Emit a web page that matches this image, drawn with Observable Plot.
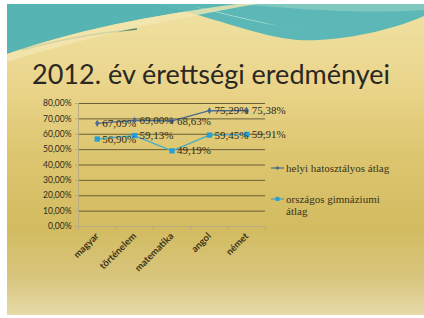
<!DOCTYPE html>
<html><head><meta charset="utf-8">
<script src="https://cdn.jsdelivr.net/npm/d3@7"></script>
<script src="https://cdn.jsdelivr.net/npm/@observablehq/plot@0.6"></script>
<style>
html,body{margin:0;padding:0;background:#fff;width:424px;height:318px;overflow:hidden;}
#slide{position:absolute;left:7px;top:4px;width:417px;height:311px;overflow:hidden;
 background:linear-gradient(180deg,#f0e2a4 0%,#ead58c 25%,#dcc56e 50%,#d2bb60 72%,#d8c67e 88%,#e6daa8 100%);}
#deco{position:absolute;left:0;top:0;}
#title{position:absolute;left:25px;top:56px;font-family:Lato,sans-serif;font-size:27px;color:#2b2722;white-space:nowrap;line-height:1;}
#chart{position:absolute;left:0;top:91px;}
.leg{position:absolute;font-family:"Liberation Serif",serif;font-size:11px;color:#3a3320;line-height:12px;}
.leg svg{position:absolute;left:-15px;top:2px;}
</style></head><body>
<div id="slide">
<svg id="deco" width="417" height="60">
 <path d="M0,0 L230,0 C170,8 80,22 0,50 Z" fill="#56b4b3"/>
 <path d="M150,0 L417,0 L417,12 C380,28 330,38 290,36 C250,32 215,16 150,0 Z" fill="#5cb8b6"/>
 <path d="M185,2 C220,10 260,20 300,28 C270,22 230,14 185,2 Z" fill="#d8eede" opacity="0.9"/>
 <path d="M230,0 L417,0 L417,6 C360,10 300,6 230,0 Z" fill="#8fcfc3" opacity="0.7"/>
 <path d="M15,46 C50,36 90,29 130,25" stroke="#2f6e60" stroke-width="1.5" fill="none" opacity="0.8"/>
 <path d="M0,50 C80,22 170,8 230,0 L250,0 C180,12 90,30 0,58 Z" fill="#f3e6b0" opacity="0.8"/>
</svg>
<div id="title">2012. év érettségi eredményei</div>
<div id="chart"></div>
<div class="leg" style="left:279px;top:158px;"><svg width="14" height="8"><line x1="0" y1="4" x2="13" y2="4" stroke="#4a6b92" stroke-width="1.2"/><path d="M6.5,2 L8.5,4 L6.5,6 L4.5,4Z" fill="#4a6b92"/></svg>helyi hatosztályos átlag</div>
<div class="leg" style="left:279px;top:189px;"><svg width="14" height="8"><line x1="0" y1="4" x2="13" y2="4" stroke="#3aa6c6" stroke-width="1.2"/><rect x="4.5" y="2" width="4" height="4" fill="#2a9fd4"/></svg>országos gimnáziumi<br>átlag</div>
</div>
<script>
const categories = ["magyar","történelem","matematika","angol","német"];
const helyi = [0.6709, 0.6900, 0.6863, 0.7529, 0.7538];
const orszagos = [0.5690, 0.5913, 0.4919, 0.5945, 0.5991];
const helyiLabels = ["67,09%","69,00%","68,63%","75,29%","75,38%"];
const orszagosLabels = ["56,90%","59,13%","49,19%","59,45%","59,91%"];
const yTicks = [0,0.1,0.2,0.3,0.4,0.5,0.6,0.7,0.8];
const yTickLabels = ["0,00%","10,00%","20,00%","30,00%","40,00%","50,00%","60,00%","70,00%","80,00%"];

const s1 = categories.map((c,i)=>({i, v:helyi[i], label:helyiLabels[i]}));
const s2 = categories.map((c,i)=>({i, v:orszagos[i], label:orszagosLabels[i]}));
const bounds = d3.range(categories.length+1).map(k=>k-0.5);
const idx = d3.range(categories.length);

const plot = Plot.plot({
  width: 417, height: 186,
  marginLeft: 71, marginRight: 159, marginTop: 8, marginBottom: 55,
  style: {background:"transparent", fontFamily:"Lato, sans-serif", fontSize:"8.5px", color:"#2e2a1a"},
  x: {type:"linear", domain:[-0.5, categories.length-0.5]},
  y: {domain:[0,0.8]},
  marks: [
    Plot.ruleY(yTicks.filter(t=>t>0), {stroke:"#4e4428", strokeOpacity:0.8, strokeWidth:1}),
    Plot.ruleY([0], {stroke:"#b8ab80", strokeWidth:1}),
    Plot.ruleX([-0.5], {y1:0, y2:0.8, stroke:"#b8ab80", strokeWidth:1}),
    Plot.axisY({ticks:yTicks, tickFormat:(d)=>yTickLabels[yTicks.indexOf(d)], tickSize:3, tickPadding:4, stroke:"#b8ab80", label:null, fill:"#2e2a1a"}),
    Plot.axisX({ticks:bounds, tickFormat:()=> "", tickSize:4, stroke:"#b8ab80", label:null}),
    Plot.axisX({ticks:idx, tickFormat:k=>categories[k], tickSize:0, tickPadding:8, tickRotate:-45, label:null, fill:"#3e3418", fontSize:9.5, fontWeight:"bold"}),
    Plot.line(s1, {x:"i", y:"v", stroke:"#4a6b92", strokeWidth:1.3}),
    Plot.line(s2, {x:"i", y:"v", stroke:"#4aaec2", strokeWidth:1.3}),
    Plot.dot(s1, {x:"i", y:"v", symbol:"diamond", r:2.2, fill:"#4a6b92"}),
    Plot.dot(s2, {x:"i", y:"v", symbol:"square", r:3, fill:"#2a9fd4"}),
    Plot.text(s1, {x:"i", y:"v", text:"label", dx:5, textAnchor:"start", fill:"#2e2a1a", fontSize:11, fontFamily:"Liberation Serif, serif"}),
    Plot.text(s2, {x:"i", y:"v", text:"label", dx:5, textAnchor:"start", fill:"#2e2a1a", fontSize:11, fontFamily:"Liberation Serif, serif"})
  ]
});
document.getElementById("chart").appendChild(plot);
</script>
</body></html>
